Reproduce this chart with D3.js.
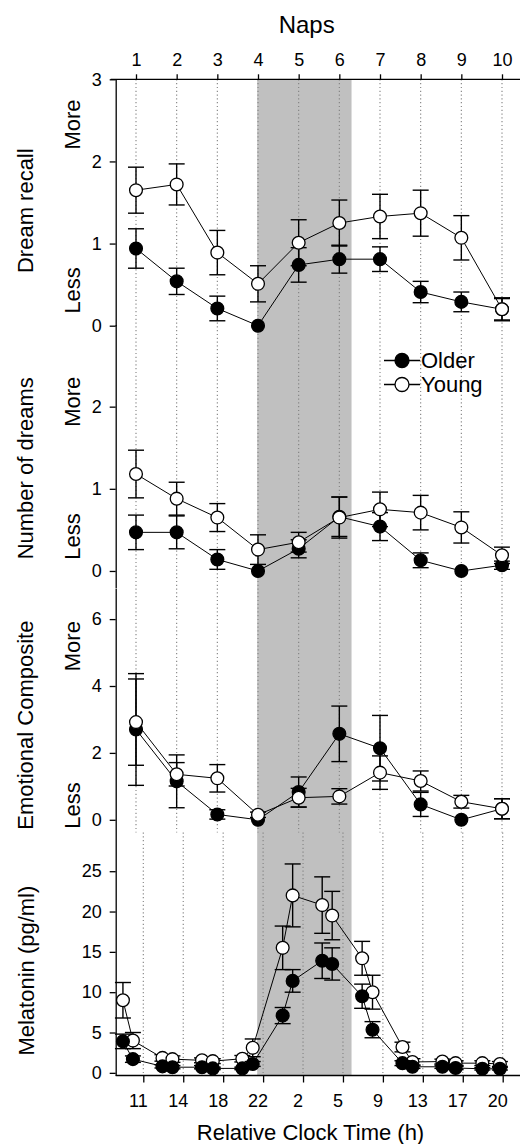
<!DOCTYPE html>
<html>
<head>
<meta charset="utf-8">
<script src="https://cdn.jsdelivr.net/npm/d3@7"></script>
<style>
  body { margin: 0; background: #fff; }
  svg { display: block; }
  text { font-family: "Liberation Sans", Arial, sans-serif; fill: #000; }
</style>
</head>
<body>
<svg id="chart" width="520" height="1144"></svg>
<script>
// ---- data -------------------------------------------------------------
const naps = [1, 2, 3, 4, 5, 6, 7, 8, 9, 10];

const recallOlder    = [0.94, 0.54, 0.21, 0.00, 0.74, 0.81, 0.81, 0.41, 0.29, 0.20];
const recallOlderSE  = [0.24, 0.16, 0.15, 0.00, 0.21, 0.17, 0.15, 0.13, 0.12, 0.13];
const recallYoung    = [1.65, 1.72, 0.89, 0.51, 1.01, 1.25, 1.33, 1.37, 1.07, 0.20];
const recallYoungSE  = [0.28, 0.25, 0.27, 0.22, 0.28, 0.28, 0.27, 0.28, 0.27, 0.14];

const dreamsOlder    = [0.47, 0.47, 0.14, 0.00, 0.27, 0.66, 0.54, 0.13, 0.00, 0.07];
const dreamsOlderSE  = [0.21, 0.20, 0.12, 0.00, 0.11, 0.24, 0.17, 0.09, 0.00, 0.05];
const dreamsYoung    = [1.18, 0.88, 0.65, 0.26, 0.35, 0.65, 0.75, 0.71, 0.53, 0.19];
const dreamsYoungSE  = [0.29, 0.20, 0.17, 0.18, 0.12, 0.25, 0.21, 0.21, 0.19, 0.10];

const emotionOlder   = [2.70, 1.15, 0.16, 0.00, 0.83, 2.57, 2.14, 0.46, 0.00, 0.33];
const emotionOlderSE = [1.67, 0.79, 0.14, 0.00, 0.45, 0.83, 0.98, 0.36, 0.00, 0.30];
const emotionYoung   = [2.92, 1.36, 1.24, 0.15, 0.66, 0.70, 1.41, 1.16, 0.54, 0.33];
const emotionYoungSE = [1.29, 0.35, 0.41, 0.08, 0.28, 0.23, 0.50, 0.30, 0.19, 0.30];

// melatonin sampling times, in units of the clock-axis tick spacing
const clockLabels = ["11", "14", "18", "22", "2", "5", "9", "13", "17", "20"];
const melTime     = [-0.51, -0.26, 0.48, 0.73, 1.47, 1.74, 2.48, 2.74, 3.49, 3.74,
                      4.48, 4.73, 5.48, 5.74, 6.49, 6.74, 7.49, 7.82, 8.49, 8.93];
const melYoung    = [9.0, 4.0, 1.85, 1.7, 1.55, 1.45, 1.75, 3.1, 15.5, 22.0,
                     20.8, 19.5, 14.2, 10.0, 3.2, 1.35, 1.4, 1.2, 1.2, 1.1];
const melYoungSE  = [2.2, 1.0, 0.4, 0.4, 0.3, 0.3, 0.4, 1.1, 2.7, 3.9,
                     3.5, 3.0, 2.1, 2.1, 0.6, 0.4, 0.3, 0.3, 0.3, 0.3];
const melOlder    = [3.9, 1.7, 0.8, 0.7, 0.7, 0.55, 0.55, 1.1, 7.1, 11.4,
                     13.9, 13.5, 9.5, 5.35, 1.2, 0.75, 0.75, 0.6, 0.5, 0.5];
const melOlderSE  = [0.9, 0.4, 0.2, 0.2, 0.2, 0.15, 0.15, 0.3, 1.0, 1.4,
                     2.2, 2.0, 1.5, 1.0, 0.3, 0.2, 0.2, 0.2, 0.15, 0.15];

// the biological-night band, in nap units
const nightBand = [3.98, 6.3];

// ---- layout -----------------------------------------------------------
const svg = d3.select("#chart");
const axisX = 115.7, rightEdge = 522;
const topY = 79.3, bottomY = 1075.5;
const splitY = 832.5;              // boundary between the nap panels and melatonin
const R = 6.4, CAP = 8;
const intFmt = d3.format("d");

const napX   = d3.scaleLinear().domain([1, 10]).range([136, 502]);
const clockX = d3.scaleLinear().domain([0, 9]).range([143.3, 502.7]);

const panels = [
  { title: "Dream recall", older: recallOlder, olderSE: recallOlderSE, young: recallYoung, youngSE: recallYoungSE,
    y: d3.scaleLinear().domain([0, 3]).range([325.7, topY]), ticks: [0, 1, 2, 3],
    titleAt: 1.4, moreAt: 2.45, lessAt: 0.43 },
  { title: "Number of dreams", older: dreamsOlder, olderSE: dreamsOlderSE, young: dreamsYoung, youngSE: dreamsYoungSE,
    y: d3.scaleLinear().domain([-0.2, 3]).range([587.4, 324.5]), ticks: [0, 1, 2],
    titleAt: 1.25, moreAt: 2.06, lessAt: 0.42 },
  { title: "Emotional Composite", older: emotionOlder, olderSE: emotionOlderSE, young: emotionYoung, youngSE: emotionYoungSE,
    y: d3.scaleLinear().domain([-0.38, 6.93]).range([splitY, 588]), ticks: [0, 2, 4, 6],
    titleAt: 2.83, moreAt: 5.19, lessAt: 0.43 }
];
const melY = d3.scaleLinear().domain([-0.33, 29.8]).range([bottomY, splitY]);

// ---- background band and dotted guides ---------------------------------
svg.append("rect")
  .attr("x", napX(nightBand[0])).attr("y", topY)
  .attr("width", napX(nightBand[1]) - napX(nightBand[0]))
  .attr("height", bottomY - topY)
  .attr("fill", "#c0c0c0");

svg.append("g").selectAll("line").data(naps).join("line")
  .attr("x1", d => napX(d)).attr("x2", d => napX(d))
  .attr("y1", topY).attr("y2", splitY)
  .attr("stroke", "#808080").attr("stroke-width", 1.1).attr("stroke-dasharray", "1.2,2.6");

svg.append("g").selectAll("line").data(d3.range(clockLabels.length)).join("line")
  .attr("x1", d => clockX(d)).attr("x2", d => clockX(d))
  .attr("y1", splitY).attr("y2", bottomY)
  .attr("stroke", "#808080").attr("stroke-width", 1.1).attr("stroke-dasharray", "1.2,2.6");

// ---- series drawing -----------------------------------------------------
function drawSeries(g, xs, vals, errs, y, filled) {
  const pts = vals.map((v, i) => ({ x: xs[i], v, e: errs[i] }));
  g.append("path")
    .datum(pts)
    .attr("fill", "none").attr("stroke", "#000").attr("stroke-width", 1)
    .attr("d", d3.line().x(d => d.x).y(d => y(d.v)));
  const eb = g.append("g").attr("stroke", "#000").attr("stroke-width", 1.4);
  pts.filter(d => d.e > 0).forEach(d => {
    eb.append("line").attr("x1", d.x).attr("x2", d.x).attr("y1", y(d.v - d.e)).attr("y2", y(d.v + d.e));
    eb.append("line").attr("x1", d.x - CAP).attr("x2", d.x + CAP).attr("y1", y(d.v + d.e)).attr("y2", y(d.v + d.e));
    eb.append("line").attr("x1", d.x - CAP).attr("x2", d.x + CAP).attr("y1", y(d.v - d.e)).attr("y2", y(d.v - d.e));
  });
  g.append("g").selectAll("circle").data(pts).join("circle")
    .attr("cx", d => d.x).attr("cy", d => y(d.v)).attr("r", R)
    .attr("fill", filled ? "#000" : "#fff")
    .attr("stroke", "#000").attr("stroke-width", 1.3);
}

function styleLeftAxis(ax) {
  ax.select(".domain").attr("stroke-width", 1.3);
  ax.selectAll(".tick line").attr("stroke-width", 1.3);
  ax.selectAll(".tick text").attr("font-size", 18).attr("font-family", null);
}

// nap panels
panels.forEach(p => {
  const g = svg.append("g");
  const xs = naps.map(n => napX(n));
  drawSeries(g, xs, p.older, p.olderSE, p.y, true);
  drawSeries(g, xs, p.young, p.youngSE, p.y, false);

  const ax = svg.append("g").attr("transform", `translate(${axisX},0)`)
    .call(d3.axisLeft(p.y).tickValues(p.ticks).tickFormat(intFmt)
      .tickSize(6).tickSizeOuter(0).tickPadding(8));
  styleLeftAxis(ax);

  svg.append("text").attr("font-size", 22).attr("text-anchor", "middle")
    .attr("transform", `translate(33,${p.y(p.titleAt)}) rotate(-90)`).text(p.title);
  svg.append("text").attr("font-size", 22).attr("text-anchor", "middle")
    .attr("transform", `translate(80,${p.y(p.moreAt)}) rotate(-90)`).text("More");
  svg.append("text").attr("font-size", 22).attr("text-anchor", "middle")
    .attr("transform", `translate(80,${p.y(p.lessAt)}) rotate(-90)`).text("Less");
});

// melatonin panel
{
  const g = svg.append("g");
  const xs = melTime.map(t => clockX(t));
  drawSeries(g, xs, melYoung, melYoungSE, melY, false);
  drawSeries(g, xs, melOlder, melOlderSE, melY, true);

  const ax = svg.append("g").attr("transform", `translate(${axisX},0)`)
    .call(d3.axisLeft(melY).tickValues([0, 5, 10, 15, 20, 25]).tickFormat(intFmt)
      .tickSize(6).tickSizeOuter(0).tickPadding(8));
  styleLeftAxis(ax);

  svg.append("text").attr("font-size", 22).attr("text-anchor", "middle")
    .attr("transform", `translate(34,${melY(12.67)}) rotate(-90)`).text("Melatonin (pg/ml)");
}

// ---- top (nap) axis -----------------------------------------------------
{
  svg.append("line").attr("x1", axisX - 5).attr("x2", rightEdge)
    .attr("y1", topY).attr("y2", topY).attr("stroke", "#000").attr("stroke-width", 1.3);
  const ax = svg.append("g").attr("transform", `translate(0,${topY})`)
    .call(d3.axisTop(napX).tickValues(naps).tickSize(5).tickPadding(8));
  ax.select(".domain").remove();
  ax.selectAll(".tick line").attr("stroke-width", 1.3);
  ax.selectAll(".tick text").attr("font-size", 18).attr("font-family", null);
  svg.append("text").attr("font-size", 24).attr("text-anchor", "middle")
    .attr("x", 306.7).attr("y", 33).text("Naps");
}

// ---- bottom (clock time) axis -----------------------------------------
{
  svg.append("line").attr("x1", axisX).attr("x2", rightEdge)
    .attr("y1", bottomY).attr("y2", bottomY).attr("stroke", "#000").attr("stroke-width", 1.3);
  const ax = svg.append("g").attr("transform", `translate(0,${bottomY})`)
    .call(d3.axisBottom(clockX).tickValues(d3.range(clockLabels.length))
      .tickFormat(i => clockLabels[i]).tickSize(7).tickPadding(12));
  ax.select(".domain").remove();
  ax.selectAll(".tick line").attr("stroke-width", 1.3);
  ax.selectAll(".tick text").attr("font-size", 18).attr("font-family", null).attr("dx", -5.5);
  svg.append("text").attr("font-size", 22).attr("text-anchor", "middle")
    .attr("x", 310.5).attr("y", 1140).text("Relative Clock Time (h)");
}

// ---- legend -------------------------------------------------------------
{
  const legend = [
    { label: "Older", filled: true },
    { label: "Young", filled: false }
  ];
  const lg = svg.append("g").attr("transform", "translate(384,360.5)");
  const row = lg.selectAll("g").data(legend).join("g")
    .attr("transform", (d, i) => `translate(0,${i * 24})`);
  row.append("line").attr("x1", 0).attr("x2", 36).attr("stroke", "#000").attr("stroke-width", 1.3);
  row.append("circle").attr("cx", 18).attr("r", 7)
    .attr("fill", d => d.filled ? "#000" : "#fff").attr("stroke", "#000").attr("stroke-width", 1.3);
  row.append("text").attr("x", 37).attr("dy", "0.36em").attr("font-size", 22).text(d => d.label);
}
</script>
</body>
</html>
